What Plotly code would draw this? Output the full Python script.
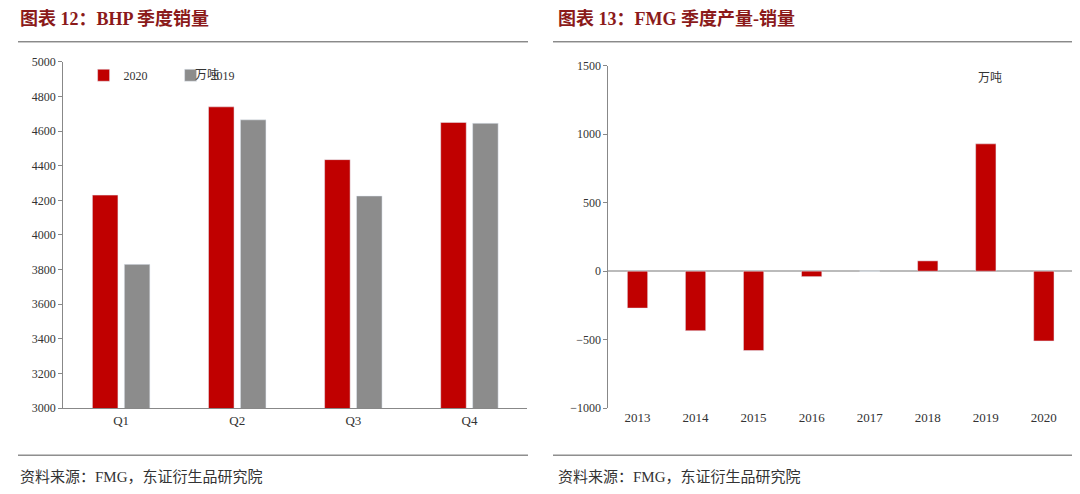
import plotly.graph_objects as go
from plotly.subplots import make_subplots

# BHP quarterly sales (万吨)
quarters = ['Q1', 'Q2', 'Q3', 'Q4']
bhp_2020 = [4230, 4740, 4435, 4650]
bhp_2019 = [3830, 4665, 4225, 4645]

# FMG production minus sales (万吨)
years = ['2013', '2014', '2015', '2016', '2017', '2018', '2019', '2020']
fmg_diff = [-270, -435, -580, -40, 0, 75, 930, -510]

RED = '#C00000'
GREY = '#8C8C8C'
SERIF = 'Liberation Serif, Noto Sans CJK SC'


def py(p):
    # pixel from top -> paper fraction
    return 1 - p / 494


fig = make_subplots(rows=1, cols=2)

fig.add_trace(go.Bar(x=quarters, y=bhp_2020, name='2020', marker_color=RED), row=1, col=1)
fig.add_trace(go.Bar(x=quarters, y=bhp_2019, name='2019', marker_color=GREY), row=1, col=1)
fig.add_trace(go.Bar(x=years, y=fmg_diff, marker_color=RED, showlegend=False, width=0.35), row=1, col=2)

fig.update_layout(
    width=1080, height=494, margin=dict(l=0, r=0, t=0, b=0),
    plot_bgcolor='white', paper_bgcolor='white',
    font=dict(family=SERIF, size=13, color='#333'),
    bargap=0.45, bargroupgap=0.2,
    legend=dict(orientation='h', x=0.07, y=py(62), xanchor='left', yanchor='middle',
                font=dict(size=12), entrywidth=42, entrywidthmode='pixels', itemwidth=30,
                traceorder='normal', bgcolor='rgba(0,0,0,0)', tracegroupgap=0),
    xaxis=dict(domain=[0.051, 0.481], showline=True, linecolor='#888', ticks='', tickfont=dict(size=13)),
    yaxis=dict(domain=[py(404.5), py(48.2)], range=[3000, 5000], dtick=200, showline=True, linecolor='#888',
               showgrid=False, ticks='outside', ticklen=4, tickcolor='#888',
               tickfont=dict(size=12, color='#333')),
    xaxis2=dict(domain=[0.556, 0.986], showline=False, ticks='', tickfont=dict(size=13)),
    yaxis2=dict(domain=[py(404.5), py(52.3)], range=[-1000, 1500], dtick=500, showline=True, linecolor='#888',
                showgrid=False, zeroline=True, zerolinecolor='#bbb', ticks='outside', ticklen=4,
                tickcolor='#888', tickfont=dict(size=12, color='#333')),
)

ann = [
    dict(x=10/1080, y=py(4), text='<b>图表 12：BHP 季度销量</b>', font=dict(size=18, color='#8B1A1A')),
    dict(x=548/1080, y=py(4), text='<b>图表 13：FMG 季度产量-销量</b>', font=dict(size=18, color='#8B1A1A')),
    dict(x=10/1080, y=py(475), text='资料来源：FMG，东证衍生品研究院', font=dict(size=15, color='#333')),
    dict(x=548/1080, y=py(475), text='资料来源：FMG，东证衍生品研究院', font=dict(size=15, color='#333')),
    dict(x=185/1080, y=py(62), text='万吨', font=dict(size=12, color='#333')),
    dict(x=968/1080, y=py(65), text='万吨', font=dict(size=12, color='#333')),
]
for a in ann:
    fig.add_annotation(xref='paper', yref='paper', xanchor='left', yanchor='middle', showarrow=False, **a)

for x0, x1 in [(10, 520), (545, 1075)]:
    for yy in [27.6, 453]:
        fig.add_shape(type='line', xref='paper', yref='paper', x0=x0/1080, x1=x1/1080,
                      y0=py(yy), y1=py(yy), line=dict(color='#555', width=1))

fig.write_html("out.html")
